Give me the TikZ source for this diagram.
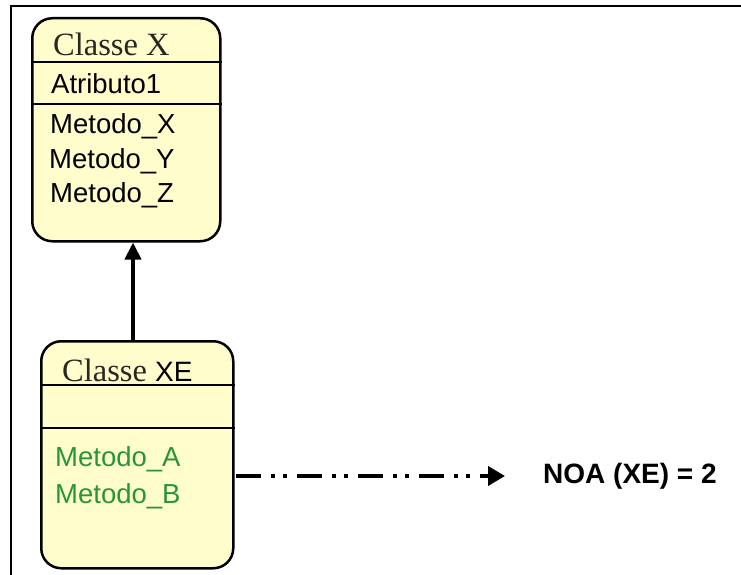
\documentclass[tikz,border=0pt]{standalone}
\usepackage{fontspec}
\setmainfont{Liberation Sans}
\newfontfamily\titlefont{Liberation Serif}
\usetikzlibrary{arrows.meta}
\definecolor{boxfill}{RGB}{255,253,204}
\definecolor{mgreen}{RGB}{40,150,52}
\definecolor{titlegray}{RGB}{40,40,35}
\tikzset{
  classbox/.style={draw=black, line width=2.5pt, fill=boxfill, rounded corners=20pt,
    rectangle, anchor=north west, inner sep=0pt},
  sep/.style={draw=black, line width=2pt},
  member/.style={anchor=west, inner sep=0pt, font=\fontsize{27.5}{31}\selectfont},
  ctitle/.style={anchor=west, inner sep=0pt, text=titlegray},
  inherit/.style={line width=4pt, -{Triangle[length=17pt,width=16pt]}},
  metric/.style={line width=4pt, dash pattern=on 25pt off 10pt on 4pt off 8pt on 4pt off 10pt,
    -{Triangle[length=17pt,width=19pt]}}
}
\begin{document}
\begin{tikzpicture}[x=1pt,y=-1pt]
  \useasboundingbox (0,0) rectangle (741,575);
  \fill[white] (0,0) rectangle (741,575);
  % outer frame, running past the page on the right and bottom
  \begin{scope}
    \clip (0,0) rectangle (741,575);
    \draw[line width=2.5pt] (11,6) rectangle (800,650);
  \end{scope}

  % Classe X
  \node[classbox, minimum width=188pt, minimum height=223pt] (cx) at (31,17) {};
  \draw[sep] (cx.west |- 0,62) -- (cx.east |- 0,62);
  \draw[sep] (cx.west |- 0,104) -- (cx.east |- 0,104);
  \node[ctitle, font=\titlefont\fontsize{32.5}{36}\selectfont] (cxt) at (53,44) {Classe X};
  \node[member] (cxa) at (51,84) {Atributo1};
  \node[member] (cxm1) at (50,126) {Metodo\_X};
  \node[member] (cxm2) at (49,161) {Metodo\_Y};
  \node[member] (cxm3) at (50,195) {Metodo\_Z};

  % Classe XE
  \node[classbox, minimum width=192pt, minimum height=227pt] (cxe) at (40,340) {};
  \draw[sep] (cxe.west |- 0,385) -- (cxe.east |- 0,385);
  \draw[sep] (cxe.west |- 0,428) -- (cxe.east |- 0,428);
  \node[ctitle, font=\titlefont\fontsize{32.5}{36}\selectfont] (cxet) at (62,370)
    {Classe {\normalfont\fontsize{28}{31}\selectfont\color{black}XE}};
  \node[member, text=mgreen] (cxem1) at (55,459) {Metodo\_A};
  \node[member, text=mgreen] (cxem2) at (55,496) {Metodo\_B};

  % inheritance connector
  \coordinate (ax) at (133,0);
  \draw[inherit] (cxe.north -| ax) -- (cx.south -| ax);

  % metric result
  \node[anchor=west, inner sep=0pt, font=\bfseries\fontsize{28}{32}\selectfont] (noa) at (543,476) {NOA (XE) = 2};
  \coordinate (mstart) at (236,476);
  \coordinate (mend) at (505,476);
  \draw[metric] (mstart) -- (mend);
\end{tikzpicture}
\end{document}
